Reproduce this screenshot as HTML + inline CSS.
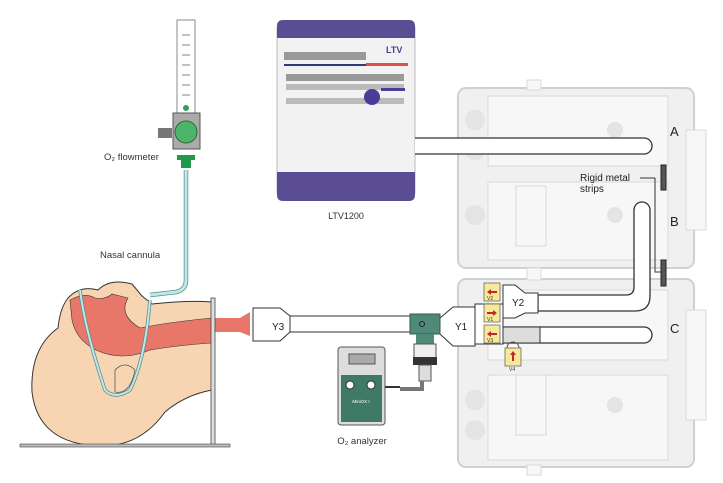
<!DOCTYPE html>
<html><head><meta charset="utf-8"><style>
html,body{margin:0;padding:0;background:#fff;}
svg{display:block;font-family:"Liberation Sans",sans-serif;}
</style></head><body>
<svg width="723" height="483" viewBox="0 0 723 483" xmlns="http://www.w3.org/2000/svg">
<!-- Boxes -->
<g stroke="#d0d0d0" stroke-width="2" fill="#f0f0f0">
<rect x="458" y="88" width="236" height="180" rx="8"/>
<rect x="458" y="279" width="236" height="188" rx="8"/>
</g>
<g fill="#f7f7f7" stroke="#dadada">
<rect x="488" y="96" width="180" height="70"/>
<rect x="488" y="182" width="180" height="78"/>
<rect x="488" y="290" width="180" height="70"/>
<rect x="488" y="375" width="180" height="85"/>
<rect x="516" y="186" width="30" height="60"/>
<rect x="516" y="375" width="30" height="60"/>
<rect x="686" y="130" width="20" height="100"/>
<rect x="686" y="310" width="20" height="110"/>
<rect x="527" y="80" width="14" height="10"/>
<rect x="527" y="268" width="14" height="12"/>
<rect x="527" y="465" width="14" height="10"/>
</g>
<g fill="#e4e4e4"><circle cx="475" cy="120" r="10"/><circle cx="475" cy="150" r="10"/><circle cx="475" cy="215" r="10"/><circle cx="475" cy="325" r="10"/><circle cx="475" cy="400" r="10"/><circle cx="475" cy="430" r="10"/>
<circle cx="615" cy="130" r="8"/><circle cx="615" cy="215" r="8"/><circle cx="615" cy="405" r="8"/></g>

<!-- Ventilator -->
<rect x="277" y="22" width="138" height="176" rx="6" fill="#f2f2f2" stroke="#bbb"/>
<path d="M277 38 V26 Q277 20 283 20 H409 Q415 20 415 26 V38 Z" fill="#5b4d94"/>
<path d="M277 172 H415 V195 Q415 201 409 201 H283 Q277 201 277 195 Z" fill="#5b4d94"/>
<rect x="284" y="52" width="82" height="8" fill="#999"/>
<rect x="284" y="64" width="106" height="2" fill="#2e3a7a"/>
<rect x="366" y="63" width="42" height="3" fill="#e05050"/>
<g fill="#999"><rect x="286" y="74" width="118" height="7"/><rect x="286" y="84" width="118" height="6" fill="#bbb"/><rect x="286" y="98" width="118" height="6" fill="#bbb"/></g>
<circle cx="372" cy="97" r="8" fill="#4b3d96"/>
<rect x="381" y="88" width="24" height="3" fill="#4b3d96"/>
<text x="386" y="53" font-size="9" fill="#4b3d96" font-weight="bold">LTV</text>
<text x="346" y="219" font-size="9" fill="#333" text-anchor="middle">LTV1200</text>

<!-- Tube A -->
<path d="M415 138 H644 A8 8 0 0 1 644 154 H415" fill="#fff" stroke="#333" stroke-width="1.3"/>
<!-- Tube B -->
<path d="M634 210 A8 8 0 0 1 650 210 V296 Q650 311 635 311 H538 V295 H626 Q634 295 634 287 Z" fill="#fff" stroke="#333" stroke-width="1.3"/>
<!-- Tube C -->
<path d="M503 327 H644 A8 8 0 0 1 644 343 H503 Z" fill="#fff" stroke="#333" stroke-width="1.3"/>
<rect x="503" y="327" width="37" height="16" fill="#ddd" stroke="#333"/>
<!-- Y2 -->
<path d="M503 285 H515 L525 293 H538 V313 H525 L515 318 H503 Z" fill="#fff" stroke="#333"/>
<text x="512" y="306" font-size="10" fill="#222">Y2</text>
<!-- Y1 -->
<path d="M440 318 L453 307 H475 V346 H453 L440 334 Z" fill="#fff" stroke="#333"/>
<rect x="475" y="304" width="28" height="40" fill="#fff" stroke="#333"/>
<text x="455" y="330" font-size="10" fill="#222">Y1</text>
<!-- valves -->
<g fill="#f6e99a" stroke="#555" stroke-width="0.7">
<rect x="484" y="283" width="16" height="18"/><rect x="484" y="304" width="16" height="18"/><rect x="484" y="325" width="16" height="18"/><rect x="505" y="348" width="16" height="18"/></g>
<path d="M507 348 A6 6 0 0 1 519 348" fill="none" stroke="#555"/>
<g fill="#c0282a"><path d="M487 292 l4 -3 v2 h6 v2 h-6 v2 z"/><path d="M497 313 l-4 -3 v2 h-6 v2 h6 v2 z"/><path d="M487 334 l4 -3 v2 h6 v2 h-6 v2 z"/><path d="M513 351 l-3 4 h2 v6 h2 v-6 h2 z"/></g>
<g font-size="5" fill="#333"><text x="487" y="300">V2</text><text x="487" y="321">V1</text><text x="487" y="342">V3</text><text x="509" y="371">V4</text></g>

<!-- labels A B C -->
<g font-size="13" fill="#222"><text x="670" y="136">A</text><text x="670" y="226">B</text><text x="670" y="333">C</text></g>
<text x="580" y="181" font-size="10" fill="#222">Rigid metal</text>
<text x="580" y="192" font-size="10" fill="#222">strips</text>
<path d="M640 178 H655 M655 178 V272 H662" stroke="#333" fill="none"/>
<rect x="661" y="165" width="5" height="25" fill="#555" stroke="#222"/>
<rect x="661" y="260" width="5" height="26" fill="#555" stroke="#222"/>

<!-- Main tube to Y3 -->
<rect x="290" y="316" width="122" height="16" fill="#fff" stroke="#333"/>
<path d="M253 308 H280 L290 316 V332 L280 341 H253 Z" fill="#fff" stroke="#333"/>
<text x="272" y="330" font-size="10" fill="#222">Y3</text>
<rect x="410" y="314" width="30" height="20" fill="#4f8a78" stroke="#2f5a4e"/>
<circle cx="422" cy="324" r="2.5" fill="none" stroke="#222"/>
<rect x="416" y="334" width="18" height="10" fill="#4f8a78"/>
<rect x="414" y="344" width="22" height="14" fill="#eee" stroke="#555"/>
<rect x="413" y="357" width="24" height="8" fill="#333"/>
<rect x="419" y="365" width="12" height="16" fill="#ddd" stroke="#555"/>
<path d="M422 381 V389 H400" stroke="#777" stroke-width="4" fill="none"/>
<path d="M400 387 H385" stroke="#333" stroke-width="2"/>
<!-- Analyzer -->
<rect x="338" y="347" width="47" height="78" rx="3" fill="#ddd" stroke="#555"/>
<rect x="349" y="354" width="26" height="10" fill="#aaa" stroke="#555"/>
<rect x="341" y="375" width="41" height="47" fill="#3e7a66"/>
<circle cx="350" cy="385" r="4" fill="#fff" stroke="#333"/><circle cx="371" cy="385" r="4" fill="#fff" stroke="#333"/>
<text x="361" y="403" font-size="4.5" fill="#fff" text-anchor="middle">MiniOX I</text>
<text x="362" y="444" font-size="9.5" fill="#333" text-anchor="middle">O₂ analyzer</text>

<!-- Flowmeter -->
<rect x="177" y="20" width="18" height="93" fill="#fff" stroke="#888"/>
<g stroke="#555" stroke-width="0.7"><path d="M182 35h8M182 45h8M182 55h8M182 65h8M182 75h8M182 85h8M182 95h8"/></g>
<circle cx="186" cy="108" r="3" fill="#3a9a5a"/>
<rect x="158" y="128" width="14" height="10" fill="#777"/>
<rect x="173" y="113" width="27" height="36" fill="#aaa" stroke="#555"/>
<circle cx="186" cy="132" r="11" fill="#4cb56a" stroke="#2a6a3a"/>
<path d="M177 155 H195 V160 H177 Z" fill="#1f9a4a"/>
<path d="M181 160 H191 V168 H181 Z" fill="#1f9a4a"/>
<text x="104" y="160" font-size="9.5" fill="#333">O₂ flowmeter</text>
<text x="100" y="258" font-size="9.5" fill="#333">Nasal cannula</text>
<path d="M186 170 V280 Q186 290 176 292 L150 295" stroke="#5a8c8c" stroke-width="4.5" fill="none"/>
<path d="M186 170 V280 Q186 290 176 292 L150 295" stroke="#bfe8e8" stroke-width="3" fill="none"/>

<!-- Head -->
<path d="M68 298 Q80 285 98 290 Q110 278 132 284 L142 296 L152 304 Q190 300 212 302 V390 Q185 395 165 412 Q140 447 100 446 Q38 444 32 392 Q30 348 58 328 Q60 308 68 298 Z" fill="#f7d5b3" stroke="#333"/>
<path d="M70 300 Q85 292 95 298 Q105 300 112 294 L128 298 Q118 315 140 328 Q170 322 212 318 V343 Q180 345 150 350 Q122 362 96 350 Q76 340 72 320 Z" fill="#e8776a" stroke="#333" stroke-width="0.6"/>
<path d="M212 318 H240 L250 312 V336 L240 332 H212 Z" fill="#e8776a"/>
<path d="M80 290 Q85 330 105 390 Q115 400 130 390 Q145 360 150 300" fill="none" stroke="#5a8c8c" stroke-width="3.5"/>
<path d="M80 290 Q85 330 105 390 Q115 400 130 390 Q145 360 150 300" fill="none" stroke="#bfe8e8" stroke-width="2"/>
<path d="M115 370 Q125 360 135 370 Q130 395 115 392 Z" fill="#f7d5b3" stroke="#333" stroke-width="0.6"/>
<!-- stand -->
<rect x="211" y="298" width="4" height="148" fill="#ddd" stroke="#444" stroke-width="0.8"/>
<rect x="20" y="444" width="210" height="3" fill="#bbb" stroke="#444" stroke-width="0.6"/>
</svg>
</body></html>
